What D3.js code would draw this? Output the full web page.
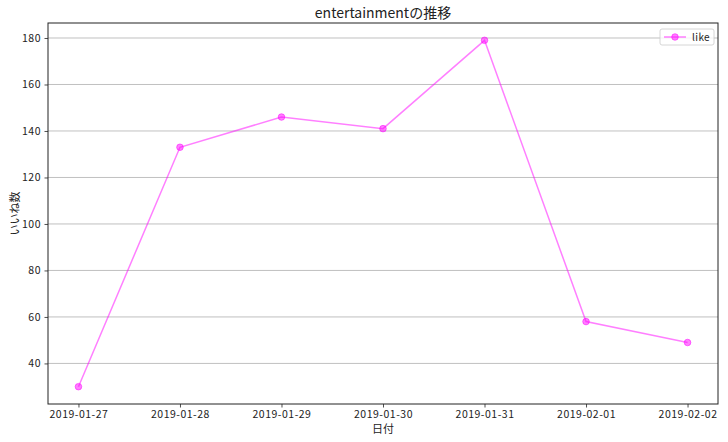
<!DOCTYPE html>
<html>
<head>
<meta charset="utf-8">
<script src="https://cdn.jsdelivr.net/npm/d3@7"></script>
<style>
  body { margin: 0; background: white; }
  text { font-family: "Noto Sans CJK JP", "DejaVu Sans", sans-serif; fill: #222; }
</style>
</head>
<body>
<div id="chart"></div>
<script>
"use strict";

const dates = ["2019-01-27", "2019-01-28", "2019-01-29", "2019-01-30", "2019-01-31", "2019-02-01", "2019-02-02"];
const likes = [30, 133, 146, 141, 179, 58, 49];
const yTicks = [40, 60, 80, 100, 120, 140, 160, 180];

const width = 728, height = 442;
const margin = { left: 48, right: 10, top: 23, bottom: 38 };
const color = "#ff00ff";

const svg = d3.select("#chart").append("svg")
  .attr("width", width)
  .attr("height", height);

const parse = d3.utcParse("%Y-%m-%d");
const xDates = dates.map(parse);

// matplotlib style 5% padding
const xPad = (xDates[xDates.length - 1] - xDates[0]) * 0.05;
const x = d3.scaleUtc()
  .domain([new Date(+xDates[0] - xPad), new Date(+xDates[xDates.length - 1] + xPad)])
  .range([margin.left, width - margin.right]);

const yMin = d3.min(likes), yMax = d3.max(likes);
const yPad = (yMax - yMin) * 0.05;
const y = d3.scaleLinear()
  .domain([yMin - yPad, yMax + yPad])
  .range([height - margin.bottom, margin.top]);

// Grid
svg.append("g")
  .selectAll("line")
  .data(yTicks)
  .join("line")
  .attr("x1", margin.left).attr("x2", width - margin.right)
  .attr("y1", d => y(d)).attr("y2", d => y(d))
  .attr("stroke", "#b0b0b0")
  .attr("stroke-width", 0.8);

// Axes
const xAxis = svg.append("g")
  .attr("transform", `translate(0,${height - margin.bottom})`)
  .call(d3.axisBottom(x).tickValues(xDates).tickFormat(d3.utcFormat("%Y-%m-%d")).tickSize(3.5).tickPadding(3.5));

const yAxis = svg.append("g")
  .attr("transform", `translate(${margin.left},0)`)
  .call(d3.axisLeft(y).tickValues(yTicks).tickSize(3.5).tickPadding(3.5));

[xAxis, yAxis].forEach(g => {
  g.select(".domain").remove();
  g.selectAll(".tick line").attr("stroke", "#222").attr("stroke-width", 0.8);
  g.selectAll(".tick text").attr("font-size", 10.5).attr("fill", "#222")
    .attr("letter-spacing", 0.5)
    .style("font-family", "'Noto Sans CJK JP', sans-serif");
});

// Frame
svg.append("rect")
  .attr("x", margin.left).attr("y", margin.top)
  .attr("width", width - margin.left - margin.right)
  .attr("height", height - margin.top - margin.bottom)
  .attr("fill", "none")
  .attr("stroke", "#222")
  .attr("stroke-width", 1);

// Line
const line = d3.line()
  .x((d, i) => x(xDates[i]))
  .y(d => y(d));

svg.append("path")
  .datum(likes)
  .attr("d", line)
  .attr("fill", "none")
  .attr("stroke", color)
  .attr("stroke-opacity", 0.5)
  .attr("stroke-width", 1.5);

svg.append("g")
  .selectAll("circle")
  .data(likes)
  .join("circle")
  .attr("cx", (d, i) => x(xDates[i]))
  .attr("cy", d => y(d))
  .attr("r", 3.3)
  .attr("fill", color)
  .attr("fill-opacity", 0.5)
  .attr("stroke", color)
  .attr("stroke-opacity", 0.5)
  .attr("stroke-width", 1);

// Title and labels
svg.append("text")
  .attr("x", (margin.left + width - margin.right) / 2)
  .attr("y", 18)
  .attr("text-anchor", "middle")
  .attr("font-size", 14)
  .text("entertainmentの推移");

svg.append("text")
  .attr("x", (margin.left + width - margin.right) / 2)
  .attr("y", 433)
  .attr("text-anchor", "middle")
  .attr("font-size", 11)
  .text("日付");

svg.append("text")
  .attr("transform", `translate(19,${(margin.top + height - margin.bottom) / 2}) rotate(-90)`)
  .attr("text-anchor", "middle")
  .attr("font-size", 11)
  .text("いいね数");

// Legend
const legend = svg.append("g").attr("transform", "translate(660,29)");
legend.append("rect")
  .attr("width", 54).attr("height", 16)
  .attr("rx", 2)
  .attr("fill", "white")
  .attr("fill-opacity", 0.8)
  .attr("stroke", "#ccc")
  .attr("stroke-width", 0.8);
legend.append("line")
  .attr("x1", 4).attr("x2", 26).attr("y1", 8).attr("y2", 8)
  .attr("stroke", color).attr("stroke-opacity", 0.5).attr("stroke-width", 1.5);
legend.append("circle")
  .attr("cx", 15).attr("cy", 8).attr("r", 3.3)
  .attr("fill", color).attr("fill-opacity", 0.5)
  .attr("stroke", color).attr("stroke-opacity", 0.5);
legend.append("text")
  .attr("x", 32).attr("y", 11.5)
  .attr("font-size", 10)
  .attr("letter-spacing", 0.4)
  .text("like");
</script>
</body>
</html>
